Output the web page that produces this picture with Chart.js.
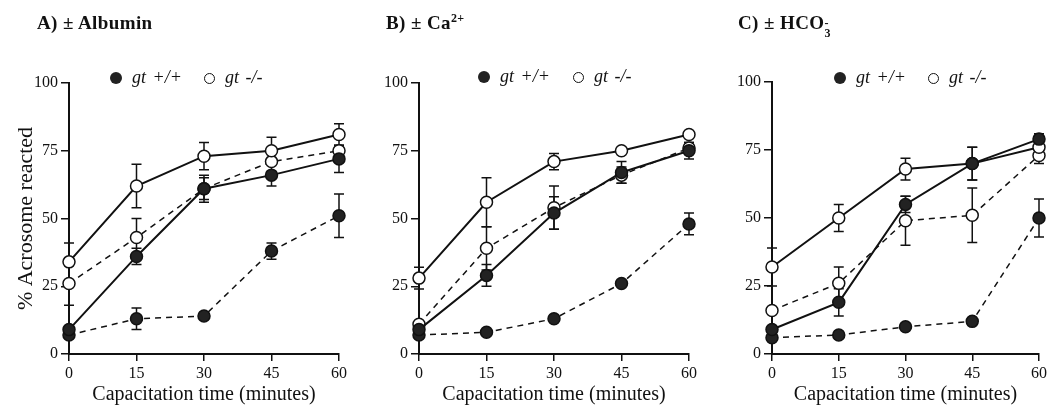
<!DOCTYPE html>
<html>
<head>
<meta charset="utf-8">
<script src="https://cdn.jsdelivr.net/npm/chart.js@4/dist/chart.umd.min.js"></script>
<style>
  body { margin: 0; background: #fff; font-family: "Liberation Serif", serif; color: #111; }
  .panel { position: absolute; top: 0; width: 350px; height: 408px; }
  .title { position: absolute; top: 13px; line-height: 20px; font-weight: bold; font-size: 19px; letter-spacing: 0.4px; white-space: nowrap; }
  .title sup { font-size: 12px; line-height: 0; }
  .ion { display: inline-block; font-size: 12px; line-height: 10px; vertical-align: -8px; text-align: left; }
  .key { position: absolute; font-style: italic; font-size: 18px; line-height: 18px; white-space: nowrap; word-spacing: 2px; }
  .dot { position: absolute; border-radius: 50%; box-sizing: border-box; }
</style>
</head>
<body>
<div class="panel" style="left:0px"><canvas id="chartA" width="350" height="408"></canvas></div>
<div class="panel" style="left:350px"><canvas id="chartB" width="350" height="408"></canvas></div>
<div class="panel" style="left:700px"><canvas id="chartC" width="350" height="408"></canvas></div>

<div class="title" style="left:37px">A) ± Albumin</div>
<div class="title" style="left:386px">B) ± Ca<sup>2+</sup></div>
<div class="title" style="left:738px">C) ± HCO<span class="ion">-<br>3</span></div>

<script>
// capacitation time (minutes) and y ticks
const minutes = [0, 15, 30, 45, 60];
const yTicks = [0, 25, 50, 75, 100];
const legendLabels = ["gt +/+", "gt -/-"];

// A) albumin  (solid = with, dashed = without)
const albWtWith = [9, 36, 61, 66, 72];
const albWtWithErr = [0, 3, 5, 4, 5];
const albWtWithout = [7, 13, 14, 38, 51];
const albWtWithoutErr = [0, 4, 0, 3, 8];
const albKoWith = [34, 62, 73, 75, 81];
const albKoWithErr = [7, 8, 5, 5, 4];
const albKoWithout = [26, 43, 61, 71, 75];
const albKoWithoutErr = [8, 7, 4, 0, 0];

// B) Ca2+
const caWtWith = [9, 29, 52, 67, 75];
const caWtWithErr = [0, 4, 6, 4, 3];
const caWtWithout = [7, 8, 13, 26, 48];
const caWtWithoutErr = [0, 0, 0, 0, 4];
const caKoWith = [28, 56, 71, 75, 81];
const caKoWithErr = [4, 9, 3, 0, 0];
const caKoWithout = [11, 39, 54, 66, 76];
const caKoWithoutErr = [0, 8, 8, 3, 2];

// C) HCO3-
const hcoWtWith = [9, 19, 55, 70, 79];
const hcoWtWithErr = [0, 5, 3, 6, 2];
const hcoWtWithout = [6, 7, 10, 12, 50];
const hcoWtWithoutErr = [0, 0, 0, 0, 7];
const hcoKoWith = [32, 50, 68, 70, 76];
const hcoKoWithErr = [7, 5, 4, 6, 0];
const hcoKoWithout = [16, 26, 49, 51, 73];
const hcoKoWithoutErr = [0, 6, 9, 10, 3];

const ink = "#111";
const serif = "Liberation Serif";

// vertical error bars with caps, drawn under the lines/points
const errorBars = {
  id: "errorBars",
  beforeDatasetsDraw(chart) {
    const ctx = chart.ctx;
    const xs = chart.scales.x, ys = chart.scales.y;
    ctx.save();
    ctx.strokeStyle = ink;
    ctx.lineWidth = 1.5;
    chart.data.datasets.forEach(ds => {
      ds.data.forEach((p, i) => {
        let e = ds.errors[i];
        if (!e) return;
        let x = xs.getPixelForValue(p.x);
        let top = ys.getPixelForValue(p.y + e);
        let bot = ys.getPixelForValue(p.y - e);
        ctx.beginPath();
        ctx.moveTo(x, top); ctx.lineTo(x, bot);
        ctx.moveTo(x - 5, top); ctx.lineTo(x + 5, top);
        ctx.moveTo(x - 5, bot); ctx.lineTo(x + 5, bot);
        ctx.stroke();
      });
    });
    ctx.restore();
  }
};

function series(vals, errs, filled, dashed) {
  return {
    data: minutes.map((m, i) => ({ x: m, y: vals[i] })),
    errors: errs,
    borderColor: ink,
    borderWidth: dashed ? 1.5 : 2,
    borderDash: dashed ? [6, 5] : [],
    pointRadius: 6,
    pointBackgroundColor: filled ? "#222" : "#fff",
    pointBorderColor: ink,
    pointBorderWidth: 1.5,
    clip: false,
    tension: 0
  };
}

function panel(id, sets, area, yTitle) {
  new Chart(document.getElementById(id), {
    type: "line",
    data: { datasets: sets },
    options: {
      responsive: false,
      animation: false,
      events: [],
      layout: { padding: { top: area.top, right: 350 - area.right, left: 0, bottom: 0 } },
      plugins: { legend: { display: false }, tooltip: { enabled: false } },
      scales: {
        x: {
          type: "linear", min: 0, max: 60,
          afterBuildTicks: s => { s.ticks = minutes.map(v => ({ value: v })); },
          afterFit: s => { s.height = 408 - area.bottom; },
          grid: { drawOnChartArea: false, tickLength: 7, tickColor: ink, lineWidth: 1.5 },
          border: { color: ink, width: 2 },
          ticks: { font: { family: serif, size: 16 }, color: ink, padding: 3 },
          title: { display: true, text: "Capacitation time (minutes)", color: ink,
                   font: { family: serif, size: 20 }, padding: { top: 0, bottom: 1 } }
        },
        y: {
          min: 0, max: 100,
          afterBuildTicks: s => { s.ticks = yTicks.map(v => ({ value: v })); },
          afterFit: s => { s.width = area.left; },
          grid: { drawOnChartArea: false, tickLength: 8, tickColor: ink, lineWidth: 1.5 },
          border: { color: ink, width: 2 },
          ticks: { font: { family: serif, size: 16 }, color: ink, padding: 3 },
          title: { display: yTitle, text: "% Acrosome reacted", color: ink,
                   font: { family: serif, size: 22 }, padding: { top: 13, bottom: 0 } }
        }
      }
    },
    plugins: [errorBars]
  });
}

panel("chartA", [
  series(albWtWith, albWtWithErr, true, false),
  series(albWtWithout, albWtWithoutErr, true, true),
  series(albKoWith, albKoWithErr, false, false),
  series(albKoWithout, albKoWithoutErr, false, true)
], { left: 69, right: 341, top: 83, bottom: 354 }, true);

panel("chartB", [
  series(caWtWith, caWtWithErr, true, false),
  series(caWtWithout, caWtWithoutErr, true, true),
  series(caKoWith, caKoWithErr, false, false),
  series(caKoWithout, caKoWithoutErr, false, true)
], { left: 69, right: 341, top: 83, bottom: 354 }, false);

panel("chartC", [
  series(hcoWtWith, hcoWtWithErr, true, false),
  series(hcoWtWithout, hcoWtWithoutErr, true, true),
  series(hcoKoWith, hcoKoWithErr, false, false),
  series(hcoKoWithout, hcoKoWithoutErr, false, true)
], { left: 72, right: 344, top: 82, bottom: 354 }, false);

// legend keys above each panel
const keySpots = [[116, 209, 78], [484, 578, 77], [840, 933, 78]];
keySpots.forEach(k => {
  let html = "";
  html += `<div class="dot" style="left:${k[0] - 6}px;top:${k[2] - 6}px;width:12px;height:12px;background:#222;"></div>`;
  html += `<div class="key" style="left:${k[0] + 16}px;top:${k[2] - 10}px">${legendLabels[0]}</div>`;
  html += `<div class="dot" style="left:${k[1] - 5.5}px;top:${k[2] - 5.5}px;width:11px;height:11px;border:1.2px solid ${ink};background:#fff;"></div>`;
  html += `<div class="key" style="left:${k[1] + 16}px;top:${k[2] - 10}px">${legendLabels[1]}</div>`;
  document.body.insertAdjacentHTML("beforeend", html);
});
</script>
</body>
</html>
